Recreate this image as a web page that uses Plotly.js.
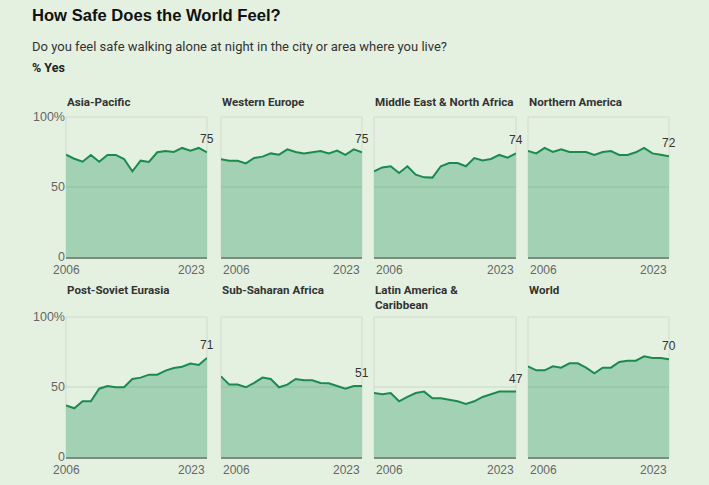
<!DOCTYPE html>
<html><head><meta charset="utf-8">
<script src="https://cdn.plot.ly/plotly-3.0.1.min.js"></script>
<style>html,body{margin:0;padding:0;background:#e4f1e1;}</style>
</head><body><div id="chart" style="width:709px;height:485px;"></div>
<script>
const years = [2006,2007,2008,2009,2010,2011,2012,2013,2014,2015,2016,2017,2018,2019,2020,2021,2022,2023];
const regions = ["Asia-Pacific","Western Europe","Middle East & North Africa","Northern America","Post-Soviet Eurasia","Sub-Saharan Africa","Latin America &<br>Caribbean","World"];
const asiaPacific    = [73.1,70.2,68.1,72.9,68.1,72.9,72.9,70.0,61.2,68.8,67.9,74.8,75.7,75.0,77.9,76.0,77.9,74.8];
const westernEurope  = [69.8,68.8,68.8,66.9,70.7,71.7,74.0,73.1,76.9,75.0,74.0,74.8,75.7,74.0,76.0,72.9,76.9,74.8];
const menaRegion     = [61.2,64.0,64.8,60.0,64.8,58.8,56.9,56.7,64.8,67.1,67.1,64.8,70.7,69.0,70.0,72.9,71.0,74.0];
const northernAmerica= [75.7,74.0,77.9,75.0,76.9,75.0,75.0,75.0,72.9,75.0,75.7,72.9,72.9,74.8,77.9,74.0,73.1,71.9];
const postSoviet     = [36.9,34.8,39.8,39.8,48.8,50.7,49.8,49.8,55.7,56.7,58.8,58.8,61.7,63.6,64.5,66.7,65.7,70.7];
const subSaharan     = [57.6,51.7,51.7,49.8,52.9,56.7,55.7,49.8,51.7,55.7,54.8,54.8,52.9,52.6,50.7,48.8,50.7,50.7];
const latinAmerica   = [45.7,44.8,45.7,39.8,42.9,45.7,46.7,41.9,41.9,40.7,39.8,37.9,39.8,42.9,44.8,46.7,46.7,46.7];
const world          = [64.8,61.9,61.9,64.8,63.8,66.9,66.9,63.8,59.8,63.8,63.8,67.9,68.8,68.8,71.9,70.7,70.7,69.8];
const seriesList = [asiaPacific,westernEurope,menaRegion,northernAmerica,postSoviet,subSaharan,latinAmerica,world];
const yTickVals = [0,50,100];
const yTickText = ["0","50","100%"];
const xTickLabels = ["2006","2023"];
const chartTitle = "How Safe Does the World Feel?";
const chartSubtitle = "Do you feel safe walking alone at night in the city or area where you live?";
const unitLabel = "% Yes";

const W = 709, H = 485;
const FONT = "Roboto, 'Liberation Sans', Arial, sans-serif";
const NUMFONT = "'Liberation Sans', Arial, sans-serif";
const cols = [[66,207],[221,362],[374,516],[528,669]];
const rows = [[117,257],[317,457]];
const titleTops = [94,282];

const data = [];
const layout = {
  width: W, height: H,
  margin: {l:0,r:0,t:0,b:0},
  paper_bgcolor: "#e4f1e1", plot_bgcolor: "rgba(0,0,0,0)",
  showlegend: false,
  font: {family: FONT, color: "#333"},
  shapes: [], annotations: []
};

seriesList.forEach((vals, i) => {
  const n = i + 1;
  const ax = i === 0 ? "" : String(n);
  const r = Math.floor(i / 4), c = i % 4;
  const xd = [cols[c][0]/W, cols[c][1]/W];
  const yd = [1 - rows[r][1]/H, 1 - rows[r][0]/H];
  layout["xaxis" + ax] = {
    domain: xd, anchor: "y" + ax, range: [years[0], years[years.length-1]],
    showgrid: false, zeroline: false, showline: true, linecolor: "#7f8a80", linewidth: 1.5,
    showticklabels: false, ticks: "", fixedrange: true
  };
  layout["yaxis" + ax] = {
    domain: yd, anchor: "x" + ax, range: [0, 100],
    tickvals: yTickVals, ticktext: yTickText, showticklabels: c === 0,
    tickfont: {size: 12.5, color: "#666", family: NUMFONT},
    showgrid: false, zeroline: false, showline: false, ticks: "", fixedrange: true
  };
  data.push({
    type: "scatter", mode: "lines", x: years, y: vals,
    xaxis: "x" + ax, yaxis: "y" + ax,
    fill: "tozeroy", fillcolor: "#a2d2b3",
    line: {color: "#1b8a4f", width: 2}, hoverinfo: "skip"
  });
  layout.shapes.push({
    type: "rect", xref: "x" + ax + " domain", yref: "y" + ax + " domain",
    x0: 0, x1: 1, y0: 0, y1: 1, line: {color: "#d2dbd0", width: 1}, layer: "below"
  });
  layout.shapes.push({
    type: "line", xref: "x" + ax + " domain", yref: "y" + ax,
    x0: 0, x1: 1, y0: yTickVals[1], y1: yTickVals[1],
    line: {color: "rgba(60,120,80,0.18)", width: 1}, layer: "above"
  });
  // panel title
  layout.annotations.push({
    xref: "paper", yref: "paper", x: cols[c][0]/W, y: 1 - titleTops[r]/H,
    xanchor: "left", yanchor: "top", align: "left", showarrow: false, borderpad: 0,
    text: "<b>" + regions[i].split("<br>").join("</b><br><b>") + "</b>",
    font: {size: 11.6, color: "#333", family: FONT}
  });
  // end value label
  const last = vals[vals.length - 1];
  layout.annotations.push({
    xref: "x" + ax, yref: "y" + ax, x: years[years.length-1], y: last,
    xanchor: "center", yanchor: "bottom", yshift: 4, showarrow: false,
    text: String(Math.round(last)), font: {size: 12, color: "#333", family: NUMFONT}
  });
  // x tick labels
  layout.annotations.push({
    xref: "x" + ax, yref: "y" + ax, x: years[0], y: 0,
    xanchor: c === 0 ? "center" : "left", yanchor: "top", yshift: -4, showarrow: false,
    text: xTickLabels[0], font: {size: 12, color: "#666", family: NUMFONT}
  });
  layout.annotations.push({
    xref: "x" + ax, yref: "y" + ax, x: years[years.length-1], y: 0,
    xanchor: "right", yanchor: "top", yshift: -4, showarrow: false,
    text: xTickLabels[1], font: {size: 12, color: "#666", family: NUMFONT}
  });
});

layout.annotations.push({
  xref: "paper", yref: "paper", x: 30/W, y: 1 - 16/H, xanchor: "left", yanchor: "middle",
  showarrow: false, text: "<b>" + chartTitle + "</b>", font: {size: 16.6, color: "#111", family: NUMFONT}
});
layout.annotations.push({
  xref: "paper", yref: "paper", x: 30/W, y: 1 - 46/H, xanchor: "left", yanchor: "middle",
  showarrow: false, text: chartSubtitle, font: {size: 13, color: "#333", family: FONT}
});
layout.annotations.push({
  xref: "paper", yref: "paper", x: 30/W, y: 1 - 68/H, xanchor: "left", yanchor: "middle",
  showarrow: false, text: "<b>" + unitLabel + "</b>", font: {size: 12.5, color: "#222", family: FONT}
});

Plotly.newPlot("chart", data, layout, {displayModeBar: false, staticPlot: true});
</script></body></html>
